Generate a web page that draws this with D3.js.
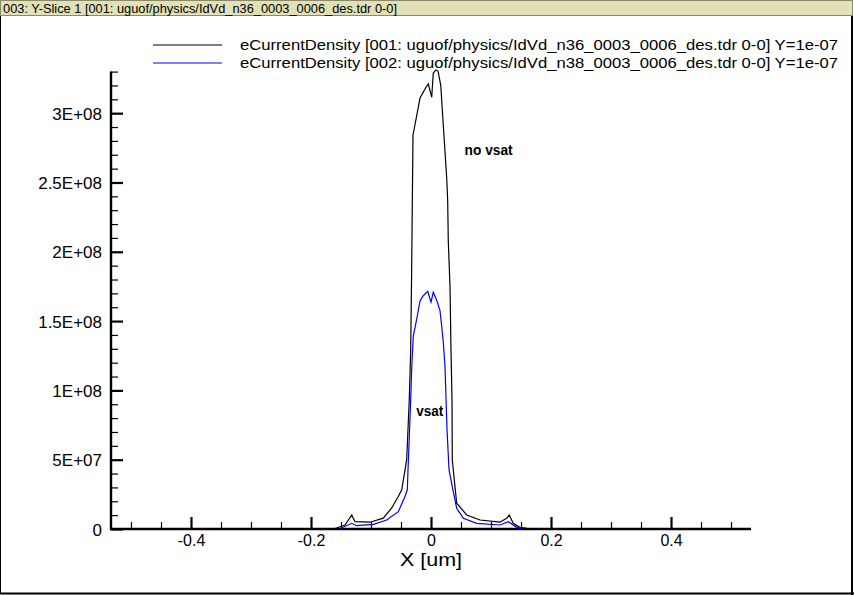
<!DOCTYPE html>
<html><head><meta charset="utf-8">
<script src="https://cdn.jsdelivr.net/npm/d3@7"></script>
<style>body{margin:0;background:#fff}svg{display:block}text{font-family:"Liberation Sans",Arial,sans-serif}</style>
</head><body>
<svg id="c" width="854" height="595"></svg>
<script>
const titleText = "003: Y-Slice 1 [001: uguof/physics/IdVd_n36_0003_0006_des.tdr 0-0]";
const legendLabels = [
  "eCurrentDensity [001: uguof/physics/IdVd_n36_0003_0006_des.tdr 0-0] Y=1e-07",
  "eCurrentDensity [002: uguof/physics/IdVd_n38_0003_0006_des.tdr 0-0] Y=1e-07"
];
const seriesColors = ["#000000", "#0000ff"];
const xMajorTicks = [-0.4, -0.2, 0, 0.2, 0.4];
const xTickLabels = ["-0.4", "-0.2", "0", "0.2", "0.4"];
const xMinorTicks = [-0.5,-0.45,-0.35,-0.3,-0.25,-0.15,-0.1,-0.05,0.05,0.1,0.15,0.25,0.3,0.35,0.45,0.5];
const yMajorTicks = [0, 5e7, 1e8, 1.5e8, 2e8, 2.5e8, 3e8];
const yTickLabels = ["0", "5E+07", "1E+08", "1.5E+08", "2E+08", "2.5E+08", "3E+08"];
const yMinorTicks = [1e7,2e7,3e7,4e7,6e7,7e7,8e7,9e7,1.1e8,1.2e8,1.3e8,1.4e8,1.6e8,1.7e8,1.8e8,1.9e8,2.1e8,2.2e8,2.3e8,2.4e8,2.6e8,2.7e8,2.8e8,2.9e8,3.1e8,3.2e8,3.3e8];
// X [um]
const xNoVsat = [-0.160,-0.1433,-0.132,-0.1267,-0.1017,-0.0795,-0.0655,-0.0545,-0.0488,-0.0405,-0.0362,-0.0338,-0.0322,-0.030,-0.0183,-0.0072,-0.0045,0.0012,0.0038,0.0083,0.0117,0.0162,0.0262,0.0278,0.0288,0.0317,0.0333,0.035,0.0355,0.0428,0.0595,0.0817,0.115,0.126,0.1305,0.137,0.148,0.160];
// eCurrentDensity (1e8)
const yNoVsat = [0.004,0.029,0.101,0.053,0.049,0.078,0.152,0.234,0.283,0.50,0.935,1.297,1.891,2.841,3.109,3.196,3.210,3.116,3.290,3.312,3.304,3.203,2.529,2.370,2.080,1.746,1.297,0.935,0.50,0.186,0.101,0.065,0.049,0.078,0.101,0.041,0.012,0.004];
const xVsat = [-0.152,-0.132,-0.124,-0.096,-0.0738,-0.0545,-0.0433,-0.0395,-0.0383,-0.0338,-0.0322,-0.0295,-0.0238,-0.0183,-0.0128,-0.0055,0.0,0.0038,0.0105,0.015,0.0178,0.0205,0.0233,0.0267,0.030,0.0372,0.0428,0.0538,0.0762,0.115,0.1288,0.1428,0.151];
const yVsat = [0.002,0.041,0.024,0.034,0.065,0.125,0.234,0.283,0.428,0.935,1.152,1.391,1.514,1.645,1.683,1.715,1.636,1.708,1.638,1.575,1.466,1.348,1.176,0.717,0.428,0.268,0.150,0.078,0.041,0.029,0.053,0.012,0.002];
const annotations = [{t:"no vsat", x:0.056, y:2.70e8, w:48}, {t:"vsat", x:-0.0245, y:0.815e8, w:27}];

const svg = d3.select("#c");
// window frame
svg.append("rect").attr("x",0.5).attr("y",0.5).attr("width",852).attr("height",593).attr("fill","#fff").attr("stroke","#000");
svg.append("line").attr("x1",852).attr("x2",852).attr("y1",16).attr("y2",595).attr("stroke","#000").attr("stroke-width",2);
svg.append("line").attr("x1",0).attr("x2",854).attr("y1",593.5).attr("y2",593.5).attr("stroke","#000").attr("stroke-width",2);
svg.append("rect").attr("x",0.5).attr("y",0.5).attr("width",852).attr("height",15).attr("fill","#e1e1b5").attr("stroke","#8a8a6a");
svg.append("text").attr("x",3).attr("y",12.5).attr("font-size",12).attr("textLength",394).attr("lengthAdjust","spacingAndGlyphs").text(titleText);

const x = d3.scaleLinear().domain([-0.5333, 0.5333]).range([111, 751]);
const y = d3.scaleLinear().domain([0, 3.3e8]).range([529, 71.6]);

// minor ticks
const gxm = svg.append("g").attr("transform","translate(0,529)")
  .call(d3.axisBottom(x).tickValues(xMinorTicks).tickSize(-7).tickFormat(""));
gxm.select(".domain").remove();
gxm.selectAll("line").attr("stroke","#000").attr("stroke-width",1.2);
const gym = svg.append("g").attr("transform","translate(111,0)")
  .call(d3.axisLeft(y).tickValues(yMinorTicks).tickSize(-7).tickFormat(""));
gym.select(".domain").remove();
gym.selectAll("line").attr("stroke","#000").attr("stroke-width",1.2);

// major ticks
const gx = svg.append("g").attr("transform","translate(0,529)")
  .call(d3.axisBottom(x).tickValues(xMajorTicks).tickSize(-12).tickFormat((d,i)=>xTickLabels[i]));
gx.select(".domain").remove();
gx.selectAll("line").attr("stroke","#000").attr("stroke-width",2.2);
gx.selectAll("text").attr("y",17).attr("dy",0).attr("font-size",16).attr("font-family","Liberation Sans, Arial").attr("fill","#000");
const gy = svg.append("g").attr("transform","translate(111,0)")
  .call(d3.axisLeft(y).tickValues(yMajorTicks).tickSize(-12).tickFormat((d,i)=>yTickLabels[i]));
gy.select(".domain").remove();
gy.selectAll("line").attr("stroke","#000").attr("stroke-width",2.2);
gy.selectAll("text").attr("x",-9).attr("dy","0.36em").attr("font-size",17).attr("font-family","Liberation Sans, Arial").attr("fill","#000");

// axis lines
svg.append("line").attr("x1",111).attr("x2",111).attr("y1",71.6).attr("y2",530).attr("stroke","#000").attr("stroke-width",2.4);
svg.append("line").attr("x1",110).attr("x2",751).attr("y1",529).attr("y2",529).attr("stroke","#000").attr("stroke-width",2.4);

svg.append("text").attr("x",x(0)).attr("y",566).attr("text-anchor","middle").attr("font-size",19).attr("textLength",62).attr("lengthAdjust","spacingAndGlyphs").text("X [um]");

// curves
const line = d3.line().x(d=>x(d[0])).y(d=>y(d[1]*1e8));
const series = [d3.zip(xNoVsat, yNoVsat), d3.zip(xVsat, yVsat)];
series.forEach((s,i)=>{
  svg.append("path").datum(s).attr("d",line).attr("fill","none").attr("stroke",seriesColors[i]).attr("stroke-width",1.2);
});

// legend
legendLabels.forEach((t,i)=>{
  const ly = 45 + i*18;
  svg.append("line").attr("x1",153).attr("x2",222).attr("y1",ly).attr("y2",ly).attr("stroke",seriesColors[i]).attr("stroke-width",1.2);
  svg.append("text").attr("x",240).attr("y",ly+5).attr("font-size",14).attr("textLength",598).attr("lengthAdjust","spacingAndGlyphs").text(t);
});

// annotations
annotations.forEach(a=>{
  svg.append("text").attr("x",x(a.x)).attr("y",y(a.y)).attr("font-size",14).attr("font-weight","bold")
    .attr("textLength",a.w).attr("lengthAdjust","spacingAndGlyphs").text(a.t);
});
</script>
</body></html>
